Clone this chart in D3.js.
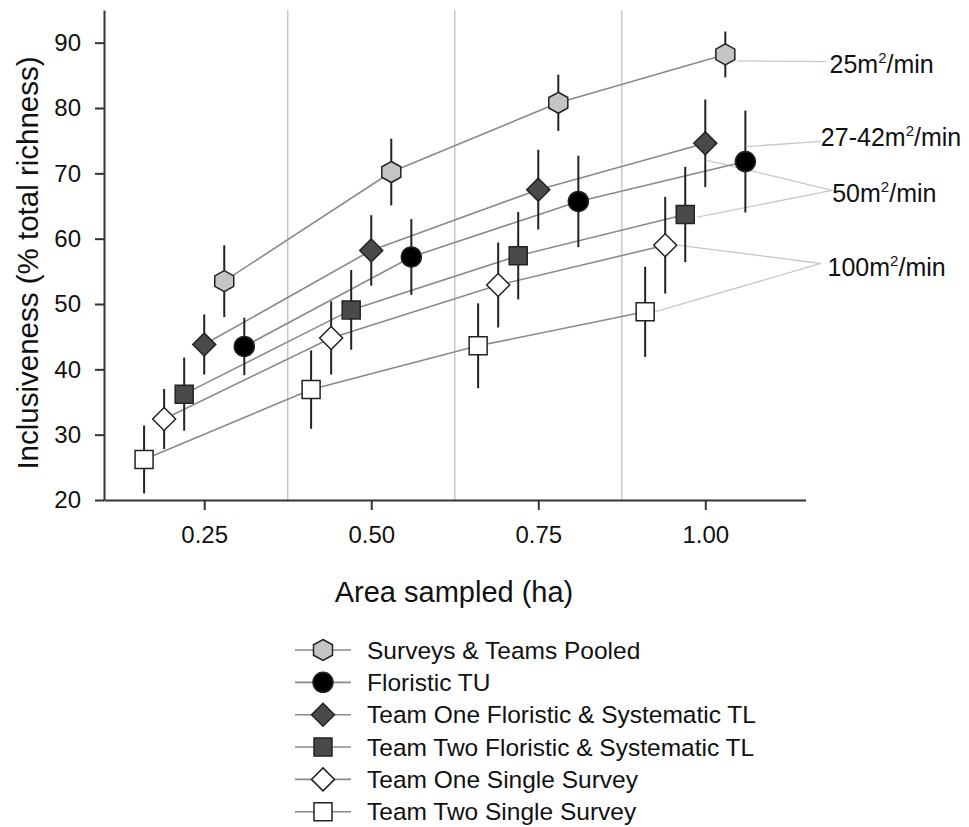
<!DOCTYPE html>
<html>
<head>
<meta charset="utf-8">
<script src="https://cdn.jsdelivr.net/npm/d3@7"></script>
<style>
  body { margin: 0; background: #fff; }
  text { font-family: "Liberation Sans", Arial, sans-serif; fill: #111; }
</style>
</head>
<body>
<script>
// ---------------- DATA ----------------
const seriesNames = [
  "Surveys & Teams Pooled",
  "Floristic TU",
  "Team One Floristic & Systematic TL",
  "Team Two Floristic & Systematic TL",
  "Team One Single Survey",
  "Team Two Single Survey"
];
const pooledX = [0.28, 0.53, 0.78, 1.03];
const pooledY = [53.5, 70.2, 80.8, 88.2];
const pooledErr = [5.5, 5.1, 4.3, 3.5];

const tuX = [0.31, 0.56, 0.81, 1.06];
const tuY = [43.5, 57.2, 65.7, 71.8];
const tuErr = [4.4, 5.8, 7.0, 7.8];

const t1fsX = [0.25, 0.50, 0.75, 1.00];
const t1fsY = [43.8, 58.2, 67.5, 74.6];
const t1fsErr = [4.6, 5.4, 6.1, 6.7];

const t2fsX = [0.22, 0.47, 0.72, 0.97];
const t2fsY = [36.2, 49.1, 57.4, 63.7];
const t2fsErr = [5.6, 6.1, 6.7, 7.3];

const t1ssX = [0.19, 0.44, 0.69, 0.94];
const t1ssY = [32.4, 44.8, 52.9, 59.0];
const t1ssErr = [4.6, 5.6, 6.5, 7.4];

const t2ssX = [0.16, 0.41, 0.66, 0.91];
const t2ssY = [26.2, 36.9, 43.6, 48.8];
const t2ssErr = [5.2, 6.0, 6.5, 6.9];

const xTicks = [0.25, 0.50, 0.75, 1.00];
const yTicks = [20, 30, 40, 50, 60, 70, 80, 90];
const gridX = [0.375, 0.625, 0.875];

// rate annotations: label text pieces, label anchor (data coords), leader starts (data coords)
const annoBase = ["25m", "27-42m", "50m", "100m"];
const annoLabelX = [1.186, 1.173, 1.19, 1.183];
const annoLabelY = [86.7, 75.45, 67.0, 55.7];
const annoLeaderEndX = [1.182, 1.173, 1.19, 1.173];
const annoLeaderEndY = [87.1, 74.9, 67.4, 56.2];
const annoLeaderStarts = [
  [[1.048, 87.2]],
  [[1.063, 74.1]],
  [[1.003, 72.0], [0.988, 63.3]],
  [[0.959, 59.0], [0.924, 48.8]]
];

// ---------------- BUILD ----------------
const series = [
  {name: seriesNames[0], xs: pooledX, ys: pooledY, es: pooledErr, shape: "hex", fill: "#c4c4c4"},
  {name: seriesNames[1], xs: tuX, ys: tuY, es: tuErr, shape: "circle", fill: "#000000"},
  {name: seriesNames[2], xs: t1fsX, ys: t1fsY, es: t1fsErr, shape: "diamond", fill: "#4a4a4a"},
  {name: seriesNames[3], xs: t2fsX, ys: t2fsY, es: t2fsErr, shape: "square", fill: "#4a4a4a"},
  {name: seriesNames[4], xs: t1ssX, ys: t1ssY, es: t1ssErr, shape: "diamond", fill: "#ffffff"},
  {name: seriesNames[5], xs: t2ssX, ys: t2ssY, es: t2ssErr, shape: "square", fill: "#ffffff"}
].map(s => ({...s, pts: s.xs.map((x, i) => ({x, y: s.ys[i], e: s.es[i]}))}));

const W = 969, H = 827;
const svg = d3.select("body").append("svg").attr("width", W).attr("height", H);

const x = d3.scaleLinear().domain([0.1, 1.15]).range([104, 805.5]);
const y = d3.scaleLinear().domain([20, 95]).range([500, 10]);

function shapePath(shape) {
  if (shape === "hex") {
    const rx = 9.5, ry = 10.5;
    const pts = [[0, -ry], [rx, -ry / 2], [rx, ry / 2], [0, ry], [-rx, ry / 2], [-rx, -ry / 2]];
    return "M" + pts.map(p => p.join(",")).join("L") + "Z";
  }
  if (shape === "circle") {
    const r = 10;
    return `M${-r},0A${r},${r} 0 1,0 ${r},0A${r},${r} 0 1,0 ${-r},0Z`;
  }
  if (shape === "diamond") {
    const a = 11.5, b = 11.5;
    return `M0,${-b}L${a},0L0,${b}L${-a},0Z`;
  }
  // square
  const h = 9;
  return `M${-h},${-h}L${h},${-h}L${h},${h}L${-h},${h}Z`;
}

// grid lines
svg.append("g").selectAll("line").data(gridX).join("line")
  .attr("x1", d => x(d)).attr("x2", d => x(d))
  .attr("y1", y(20)).attr("y2", y(95))
  .attr("stroke", "#c8c8c8").attr("stroke-width", 1.5);

// annotation leaders
const leaderG = svg.append("g");
annoLeaderStarts.forEach((starts, i) => {
  starts.forEach(st => {
    leaderG.append("line")
      .attr("x1", x(st[0])).attr("y1", y(st[1]))
      .attr("x2", x(annoLeaderEndX[i])).attr("y2", y(annoLeaderEndY[i]))
      .attr("stroke", "#c8c8c8").attr("stroke-width", 1.3);
  });
});

// connecting lines
const line = d3.line().x(d => x(d.x)).y(d => y(d.y)).curve(d3.curveLinear);
svg.append("g").selectAll("path").data(series).join("path")
  .attr("d", s => line(s.pts))
  .attr("fill", "none").attr("stroke", "#8a8a8a").attr("stroke-width", 1.6);

// error bars
const ebG = svg.append("g");
series.forEach(s => {
  ebG.selectAll(null).data(s.pts).join("line")
    .attr("x1", d => x(d.x)).attr("x2", d => x(d.x))
    .attr("y1", d => y(d.y - d.e)).attr("y2", d => y(d.y + d.e))
    .attr("stroke", "#222").attr("stroke-width", 2);
});

// markers
const mG = svg.append("g");
series.forEach(s => {
  mG.selectAll(null).data(s.pts).join("path")
    .attr("transform", d => `translate(${x(d.x)},${y(d.y)})`)
    .attr("d", shapePath(s.shape))
    .attr("fill", s.fill).attr("stroke", "#222").attr("stroke-width", 1.5);
});

// axes
const xAxis = d3.axisBottom(x).tickValues(xTicks).tickFormat(d3.format(".2f"))
  .tickSize(10).tickSizeOuter(0).tickPadding(16);
const yAxis = d3.axisLeft(y).tickValues(yTicks).tickFormat(d3.format("d"))
  .tickSize(9).tickSizeOuter(0).tickPadding(14);

const gx = svg.append("g").attr("transform", `translate(0,${y(20)})`).call(xAxis);
const gy = svg.append("g").attr("transform", `translate(${x(0.1)},0)`).call(yAxis);
[gx, gy].forEach(g => {
  g.select(".domain").attr("stroke", "#333").attr("stroke-width", 2);
  g.selectAll(".tick line").attr("stroke", "#333").attr("stroke-width", 2);
  g.selectAll(".tick text").attr("font-size", 24)
    .attr("font-family", "Liberation Sans, Arial, sans-serif").attr("fill", "#111");
});

// axis titles
svg.append("text").attr("x", 454).attr("y", 592).attr("dy", "0.35em")
  .attr("text-anchor", "middle").attr("font-size", 29).text("Area sampled (ha)");
svg.append("text").attr("transform", "translate(28,263) rotate(-90)")
  .attr("dy", "0.35em").attr("text-anchor", "middle").attr("font-size", 29.5)
  .text("Inclusiveness (% total richness)");

// annotation labels
annoBase.forEach((b, i) => {
  const t = svg.append("text").attr("x", x(annoLabelX[i])).attr("y", y(annoLabelY[i]))
    .attr("dy", "0.35em").attr("font-size", 25);
  t.append("tspan").text(b);
  t.append("tspan").attr("font-size", 15).attr("dy", -10).text("2");
  t.append("tspan").attr("dy", 10).text("/min");
});

// legend
const legY0 = 650, legStep = 32.35;
const leg = svg.append("g");
series.forEach((s, i) => {
  const yy = legY0 + i * legStep;
  leg.append("line").attr("x1", 295).attr("x2", 351).attr("y1", yy).attr("y2", yy)
    .attr("stroke", "#8a8a8a").attr("stroke-width", 1.6);
  leg.append("path").attr("transform", `translate(323,${yy})`)
    .attr("d", shapePath(s.shape)).attr("fill", s.fill)
    .attr("stroke", "#222").attr("stroke-width", 1.5);
  leg.append("text").attr("x", 367).attr("y", yy).attr("dy", "0.35em")
    .attr("font-size", 24.5).text(s.name);
});
</script>
</body>
</html>
